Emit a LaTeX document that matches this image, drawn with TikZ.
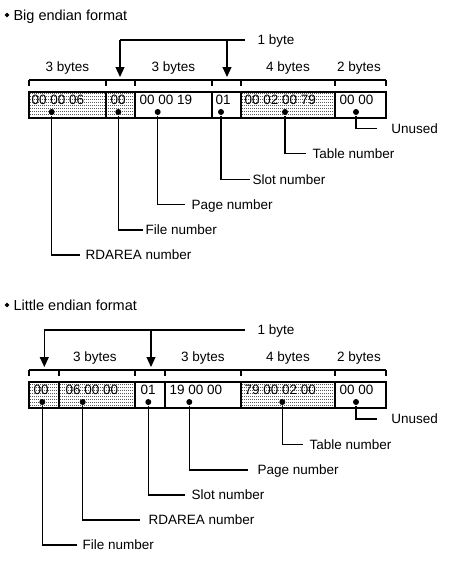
\documentclass[tikz,border=0pt]{standalone}
\usepackage{fontspec}
\setmainfont{Liberation Sans}
\usetikzlibrary{arrows.meta,shapes.geometric,patterns}
\pgfdeclarepatternformonly{hdots}{\pgfpointorigin}{\pgfqpoint{2pt}{3pt}}{\pgfqpoint{2pt}{3pt}}{%
  \pgfpathrectangle{\pgfpointorigin}{\pgfqpoint{1pt}{1pt}}\pgfusepath{fill}}
\begin{document}
\begin{tikzpicture}[x=1pt,y=-1pt,line width=1.1pt,
  lbl/.style={font=\fontsize{13.5}{16}\selectfont,inner sep=0pt,anchor=west,text height=9.7pt,text depth=0pt},
  cnt/.style={font=\fontsize{13.5}{16}\selectfont,inner sep=0pt,text height=9.7pt,text depth=0pt},
  ttl/.style={font=\fontsize{14.5}{17}\selectfont,inner sep=0pt,anchor=west,text height=10.4pt,text depth=0pt},
  bul/.style={diamond,fill,inner sep=0pt,minimum size=5pt},
  dotn/.style={circle,fill,inner sep=0pt,minimum size=6pt},
  shade/.style={pattern=hdots,pattern color=black},
  arr/.style={-{Triangle[width=9pt,length=10pt]}}]
\useasboundingbox (0,0) rectangle (448,562);

% ================= Big endian =================
\node[bul] (b0) at (7,15) {};
\node[ttl] (bt) at (13,15) {Big endian format};

\node[lbl] (ob) at (257,40) {1 byte};
\coordinate (bj1) at (120,40);
\coordinate (bj2) at (227,40);
\coordinate (ba1) at (120,77);
\coordinate (ba2) at (227,77);
\draw ([xshift=-12pt]ob.west) -- (bj1);
\draw[arr] (bj1) -- (ba1);
\draw[arr] (bj2) -- (ba2);

\node[cnt] (bs1) at (67.5,67) {3 bytes};
\node[cnt] (bs2) at (173.5,67) {3 bytes};
\node[cnt] (bs3) at (288,67) {4 bytes};
\node[cnt] (bs4) at (359,67) {2 bytes};
\draw (29,80) -- (386,80);
\foreach \x in {29,106,135,212,241,335,386} \draw (\x,80) -- (\x,85.5);

\path[shade] (29,92) rectangle (135,118);
\path[shade] (241,92) rectangle (335,118);
\draw (29,92) rectangle (386,118);
\foreach \x in {106,135,212,241,335} \draw (\x,92) -- (\x,118);

\node[lbl] (bc1) at (31,100) {00 00 06};
\node[lbl] (bc2) at (110,100) {00};
\node[lbl] (bc3) at (139,100) {00 00 19};
\node[lbl] (bc4) at (215,100) {01};
\node[lbl] (bc5) at (244,100) {00 02 00 79};
\node[lbl] (bc6) at (339,100) {00 00};

\node[dotn] (bd1) at (51.7,112) {};
\node[dotn] (bd2) at (118.3,112) {};
\node[dotn] (bd3) at (157.7,112) {};
\node[dotn] (bd4) at (221,112) {};
\node[dotn] (bd5) at (285,112) {};
\node[dotn] (bd6) at (356,112) {};

\node[lbl] (bl1) at (85,255) {RDAREA number};
\node[lbl] (bl2) at (145,230) {File number};
\node[lbl] (bl3) at (191,204.3) {Page number};
\node[lbl] (bl4) at (252,179.3) {Slot number};
\node[lbl] (bl5) at (312,153.3) {Table number};
\node[lbl] (bl6) at (390.7,128.3) {Unused};

\draw (bd1) |- ([xshift=-5pt]bl1.west);
\draw (bd2) |- ([xshift=-2pt]bl2.west);
\draw (bd3) |- ([xshift=-6pt]bl3.west);
\draw (bd4) |- ([xshift=-2pt]bl4.west);
\draw (bd5) |- ([xshift=-6pt]bl5.west);
\draw (bd6) |- ([xshift=-14pt]bl6.west);

% ================= Little endian =================
\node[bul] (l0) at (7,305) {};
\node[ttl] (lt) at (13,305) {Little endian format};

\node[lbl] (ol) at (257,330) {1 byte};
\coordinate (lj1) at (44.3,330);
\coordinate (lj2) at (151,330);
\coordinate (la1) at (44.3,367);
\coordinate (la2) at (151,367);
\draw ([xshift=-12pt]ol.west) -- (lj1);
\draw[arr] (lj1) -- (la1);
\draw[arr] (lj2) -- (la2);

\node[cnt] (ls1) at (95,357) {3 bytes};
\node[cnt] (ls2) at (203,357) {3 bytes};
\node[cnt] (ls3) at (288,357) {4 bytes};
\node[cnt] (ls4) at (359,357) {2 bytes};
\draw (29,370) -- (386,370);
\foreach \x in {29,59,135,165,241,335,386} \draw (\x,370) -- (\x,375.5);

\path[shade] (29,382) rectangle (135,408);
\path[shade] (241,382) rectangle (335,408);
\draw (29,382) rectangle (386,408);
\foreach \x in {59,135,165,241,335} \draw (\x,382) -- (\x,408);

\node[lbl] (lc1) at (33,390) {00};
\node[lbl] (lc2) at (65,390) {06 00 00};
\node[lbl] (lc3) at (140,390) {01};
\node[lbl] (lc4) at (169,390) {19 00 00};
\node[lbl] (lc5) at (244,390) {79 00 02 00};
\node[lbl] (lc6) at (339,390) {00 00};

\node[dotn] (ld1) at (42.3,402) {};
\node[dotn] (ld2) at (82.7,402) {};
\node[dotn] (ld3) at (148.3,402) {};
\node[dotn] (ld4) at (189.3,402) {};
\node[dotn] (ld5) at (282.3,402) {};
\node[dotn] (ld6) at (356,402) {};

\node[lbl] (ll1) at (82,545) {File number};
\node[lbl] (ll2) at (148,520) {RDAREA number};
\node[lbl] (ll3) at (191,495) {Slot number};
\node[lbl] (ll4) at (257,470) {Page number};
\node[lbl] (ll5) at (309,444.3) {Table number};
\node[lbl] (ll6) at (390.7,419) {Unused};

\draw (ld1) |- ([xshift=-5pt]ll1.west);
\draw (ld2) |- ([xshift=-8pt]ll2.west);
\draw (ld3) |- ([xshift=-6pt]ll3.west);
\draw (ld4) |- ([xshift=-9pt]ll4.west);
\draw (ld5) |- ([xshift=-6pt]ll5.west);
\draw (ld6) |- ([xshift=-14pt]ll6.west);
\end{tikzpicture}
\end{document}
